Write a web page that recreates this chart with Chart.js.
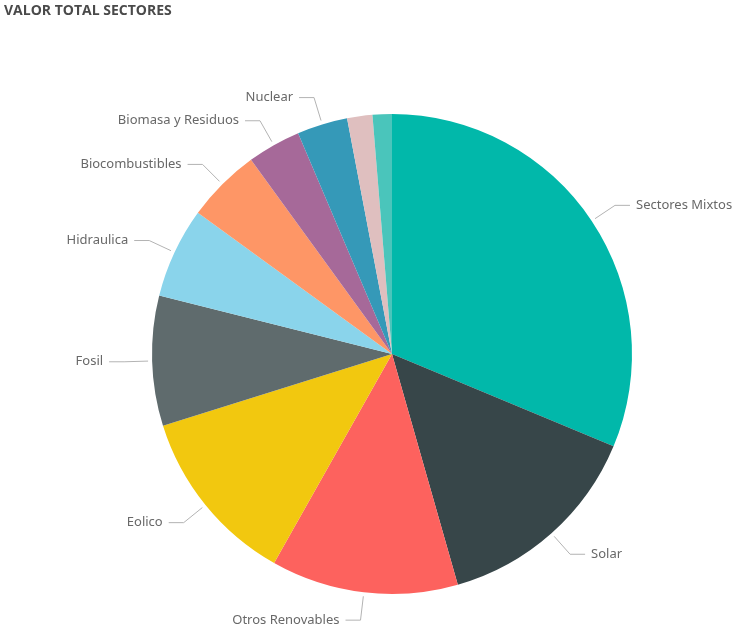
<!DOCTYPE html>
<html>
<head>
<meta charset="utf-8">
<script src="https://cdn.jsdelivr.net/npm/chart.js@4/dist/chart.umd.min.js"></script>
<style>
  html, body { margin: 0; padding: 0; background: #fff; }
  #wrap { width: 740px; height: 628px; position: relative; }
</style>
</head>
<body>
<div id="wrap"><canvas id="pieSectores"></canvas></div>
<script>
const title = 'VALOR TOTAL SECTORES';

const sectores = ['Sectores Mixtos', 'Solar', 'Otros Renovables', 'Eolico', 'Fosil', 'Hidraulica',
    'Biocombustibles', 'Biomasa y Residuos', 'Nuclear', '', ''];
const valores = [31.3, 14.3, 12.6, 12.0, 8.75, 6.1, 5.0, 3.6, 3.4, 1.7, 1.3];
const colores = ['#01B8AA', '#374649', '#FD625E', '#F2C80F', '#5F6B6D', '#8AD4EB',
    '#FE9666', '#A66999', '#3599B8', '#DFBFBF', '#4AC5BB'];

// leader lines + outside labels, drawn from the arc elements
const outsideLabels = {
    id: 'outsideLabels',
    afterDatasetsDraw(chart) {
        const ctx = chart.ctx;
        const meta = chart.getDatasetMeta(0);
        ctx.save();
        ctx.font = '13px "Noto Sans", sans-serif';
        ctx.textBaseline = 'middle';
        meta.data.forEach((arc, i) => {
            const label = chart.data.labels[i];
            if (!label) return;
            const p = arc.getProps(['x', 'y', 'startAngle', 'endAngle', 'outerRadius'], true);
            const mid = (p.startAngle + p.endAngle) / 2;
            const cos = Math.cos(mid), sin = Math.sin(mid);
            const x0 = p.x + cos * (p.outerRadius + 4);
            const y0 = p.y + sin * (p.outerRadius + 4);
            const x1 = p.x + cos * (p.outerRadius + 28);
            const y1 = p.y + sin * (p.outerRadius + 28);
            const dir = cos >= 0 ? 1 : -1;
            const x2 = x1 + dir * 15;
            ctx.strokeStyle = '#b3b3b3';
            ctx.lineWidth = 1;
            ctx.beginPath();
            ctx.moveTo(x0, y0);
            ctx.lineTo(x1, y1);
            ctx.lineTo(x2, y1);
            ctx.stroke();
            ctx.fillStyle = '#686868';
            ctx.textAlign = dir > 0 ? 'left' : 'right';
            ctx.fillText(label, x2 + dir * 6, y1);
        });
        // title
        ctx.font = 'bold 14px "Open Sans", sans-serif';
        ctx.fillStyle = '#4a4a4a';
        ctx.textAlign = 'left';
        ctx.fillText(title, 4, 11);
        ctx.restore();
    }
};

const data = {
    labels: sectores,
    datasets: [{
        label: title,
        data: valores,
        backgroundColor: colores,
        borderWidth: 0,
    }]
};

const config = {
    type: 'pie',
    data: data,
    options: {
        responsive: false,
        animation: false,
        layout: { padding: { left: 152, right: 108, top: 114, bottom: 34 } },
        plugins: {
            legend: { display: false },
            tooltip: { enabled: false },
        }
    },
    plugins: [outsideLabels]
};

const canvas = document.querySelector('#pieSectores');
canvas.width = 740;
canvas.height = 628;
// eslint-disable-next-line
const pieChart = new Chart(canvas, config);
</script>
</body>
</html>
